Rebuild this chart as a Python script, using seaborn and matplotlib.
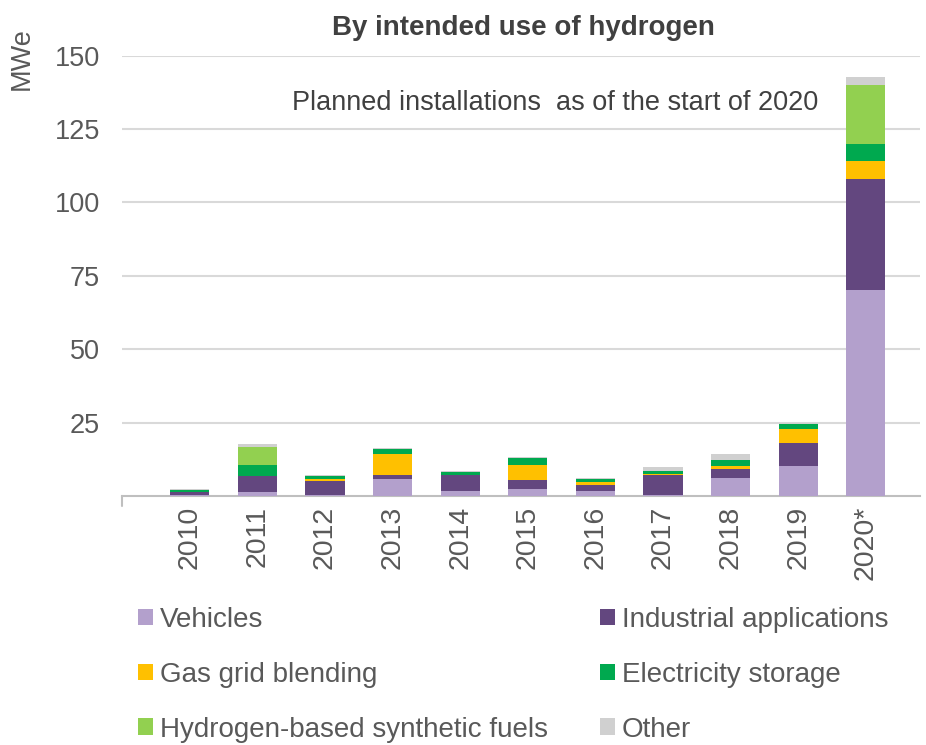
import matplotlib
matplotlib.use('Agg')
import matplotlib.pyplot as plt
import seaborn as sns
import numpy as np
import pandas as pd
from matplotlib.patches import Patch

years = ['2010', '2011', '2012', '2013', '2014', '2015', '2016', '2017', '2018', '2019', '2020*']

# MWe by intended use
vehicles = [0.3, 1.4, 0.2, 5.8, 1.7, 2.3, 1.7, 0.2, 6.3, 10.1, 70.3]
industrial = [1.2, 5.3, 4.9, 1.5, 5.5, 3.3, 2.0, 7.0, 2.9, 8.1, 37.7]
gas_grid = [0.0, 0.0, 0.6, 7.0, 0.0, 5.1, 1.1, 0.2, 1.0, 4.6, 6.0]
electricity = [0.6, 4.0, 1.0, 1.6, 1.1, 2.3, 0.9, 1.1, 2.0, 1.8, 5.9]
synfuels = [0.1, 6.0, 0.1, 0.0, 0.0, 0.0, 0.0, 0.0, 0.0, 0.0, 20.1]
other = [0.1, 1.1, 0.2, 0.3, 0.2, 0.3, 0.3, 1.5, 2.2, 0.3, 2.8]

series = ['Vehicles', 'Industrial applications', 'Gas grid blending',
          'Electricity storage', 'Hydrogen-based synthetic fuels', 'Other']
colors = ['#B3A0CC', '#63477F', '#FFC000', '#00A94F', '#92D050', '#D0D0D0']

df = pd.DataFrame({'year': years, 'Vehicles': vehicles,
                   'Industrial applications': industrial,
                   'Gas grid blending': gas_grid,
                   'Electricity storage': electricity,
                   'Hydrogen-based synthetic fuels': synfuels,
                   'Other': other})
cum = df[series].cumsum(axis=1)
cum['year'] = df['year']

sns.set_style('white')
plt.rcParams['font.family'] = ['Liberation Sans', 'DejaVu Sans']
txt = '#595959'

fig = plt.figure(figsize=(9.26, 7.45), dpi=100)
ax = fig.add_axes([0.1318, 0.3342, 0.8617, 0.5913])

# stacked bars: draw cumulative totals from the top layer down
for name, col in reversed(list(zip(series, colors))):
    sns.barplot(data=cum, x='year', y=name, color=col, width=0.58,
                linewidth=0, saturation=1, ax=ax, zorder=3)

ax.set_xlim(-1.0, 10.8)
ax.set_ylim(0, 150)
ax.set_yticks([25, 50, 75, 100, 125, 150])
ax.set_yticklabels(['25', '50', '75', '100', '125', '150'])
ax.yaxis.grid(True, color='#D9D9D9', linewidth=1.5, zorder=0)
ax.set_axisbelow(True)
for s in ['top', 'right', 'left']:
    ax.spines[s].set_visible(False)
ax.spines['bottom'].set_color('#BFBFBF')
ax.spines['bottom'].set_linewidth(1.5)
ax.set_xlabel('')
ax.set_ylabel('')
ax.tick_params(axis='y', length=0, labelsize=19.5, labelcolor=txt, pad=16)
ax.tick_params(axis='x', length=0, labelsize=20.5, labelcolor=txt, pad=7,
               labelrotation=90)
ax.plot([-1.0, -1.0], [0, -3.5], color='#BFBFBF', lw=1.5, clip_on=False)

fig.text(0.024, 0.921, 'MWe', rotation=90, fontsize=19.5, color=txt,
         ha='center', va='center')
fig.text(0.565, 0.962, 'By intended use of hydrogen', fontsize=20,
         fontweight='bold', color='#404040', ha='center', va='center')
fig.text(0.6, 0.862, 'Planned installations  as of the start of 2020',
         fontsize=19.5, color='#404040', ha='center', va='center')

# legend: two columns placed separately
leg_kw = dict(loc='upper left', frameon=False, fontsize=20, labelcolor=txt,
              handlelength=0.54, handleheight=0.54, handletextpad=0.25,
              labelspacing=1.04, borderaxespad=0, borderpad=0)
col1 = [0, 2, 4]
col2 = [1, 3, 5]
fig.legend([Patch(facecolor=colors[i], edgecolor='none') for i in col1],
           [series[i] for i in col1], bbox_to_anchor=(0.149, 0.1855), **leg_kw)
fig.legend([Patch(facecolor=colors[i], edgecolor='none') for i in col2],
           [series[i] for i in col2], bbox_to_anchor=(0.648, 0.1855), **leg_kw)

fig.savefig('out.png', dpi=100)
